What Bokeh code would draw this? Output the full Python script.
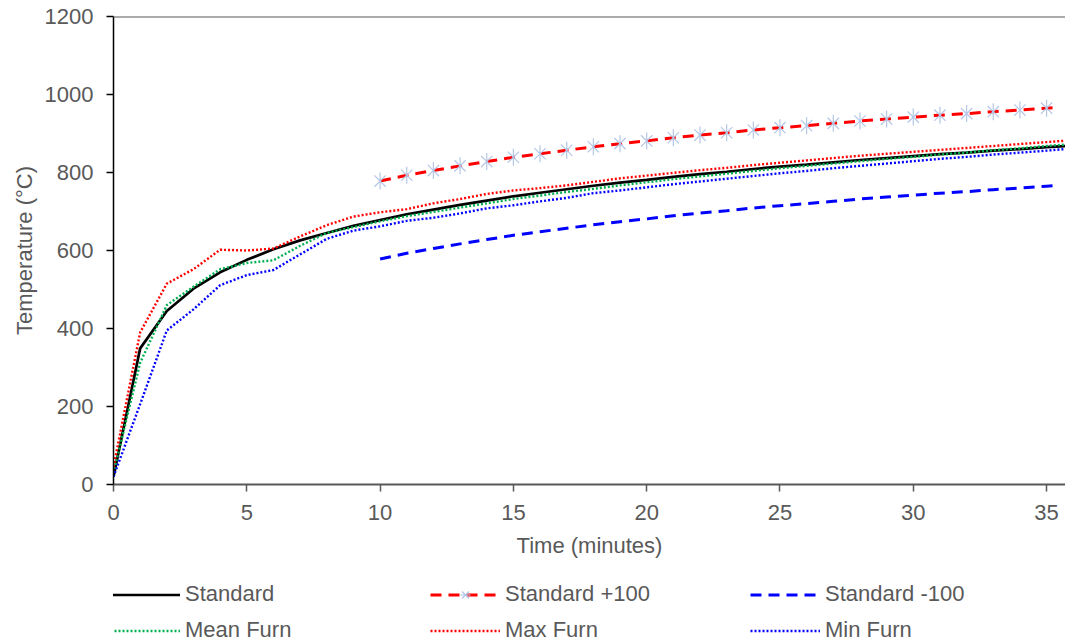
from bokeh.plotting import figure
from bokeh.layouts import column
from bokeh.models import Range1d, Legend, LegendItem, Span, FixedTicker
from bokeh.embed import file_html
from bokeh.resources import INLINE
import math

# ---- data ----
minutes = list(range(0, 37))
standard = [20, 349, 445, 502, 544, 576, 603, 626, 645, 663, 678, 693, 705, 717,
            728, 739, 748, 757, 766, 774, 781, 789, 796, 802, 809, 815, 820, 826,
            832, 837, 842, 847, 851, 856, 860, 865, 869]
max_furn = [45, 390, 515, 552, 602, 600, 605, 636, 665, 687, 698, 706, 721, 732,
            745, 754, 760, 767, 776, 785, 792, 799, 806, 812, 819, 825, 831, 837,
            843, 848, 853, 858, 863, 868, 873, 878, 883]
mean_furn = [30, 312, 460, 507, 552, 568, 575, 612, 645, 660, 675, 688, 699, 710,
             721, 732, 741, 750, 758, 767, 775, 783, 790, 797, 804, 811, 817, 823,
             829, 835, 840, 846, 851, 857, 862, 868, 873]
min_furn = [20, 206, 395, 449, 511, 537, 550, 590, 630, 651, 662, 676, 684, 695,
            708, 716, 726, 735, 747, 754, 762, 770, 777, 784, 791, 798, 804, 811,
            817, 823, 829, 835, 840, 846, 851, 856, 862]

band_minutes = [10, 11, 12, 13, 14, 15, 16, 17, 18, 19, 20, 21, 22, 23, 24, 25,
                26, 27, 28, 29, 30, 31, 32, 33, 34, 35, 35.4]
standard_plus100 = [778, 793, 805, 817, 828, 839, 848, 857, 866, 874, 881, 889,
                    896, 902, 909, 915, 920, 926, 932, 937, 942, 947, 951, 956,
                    960, 965, 967]
standard_minus100 = [578, 593, 605, 617, 628, 639, 648, 657, 666, 674, 681, 689,
                     696, 702, 709, 715, 720, 726, 732, 737, 742, 747, 751, 756,
                     760, 765, 767]
marker_minutes = band_minutes[:26]
marker_values = standard_plus100[:26]

series_names = ["Standard", "Standard +100", "Standard -100",
                "Mean Furn", "Max Furn", "Min Furn"]

x_ticks = [0, 5, 10, 15, 20, 25, 30, 35]
y_ticks = [0, 200, 400, 600, 800, 1000, 1200]

FONT = "Liberation Sans"
TXT = "#595959"
STAR = "#B4C7E7"

p = figure(width=1065, height=572,
           x_range=Range1d(0, 35.71), y_range=Range1d(0, 1200),
           output_backend="svg", toolbar_location=None,
           min_border_left=113, min_border_right=0,
           min_border_top=16, min_border_bottom=88)
p.outline_line_color = None
p.grid.visible = False

# axes
p.xaxis.ticker = FixedTicker(ticks=x_ticks)
p.yaxis.ticker = FixedTicker(ticks=y_ticks)
for ax in (p.xaxis, p.yaxis):
    ax.minor_tick_line_color = None
    ax.major_tick_in = 0
    ax.major_tick_out = 7
    ax.major_label_text_font = FONT
    ax.major_label_text_font_size = "22px"
    ax.major_label_text_color = TXT
    ax.axis_label_text_font = FONT
    ax.axis_label_text_font_size = "22px"
    ax.axis_label_text_color = TXT
    ax.axis_label_text_font_style = "normal"

p.xaxis.axis_label = "Time (minutes)"
p.xaxis.axis_line_color = "#595959"
p.xaxis.axis_line_width = 2
p.xaxis.major_tick_line_color = "#595959"
p.xaxis.major_tick_line_width = 1.5
p.xaxis.major_label_standoff = 13
p.xaxis.axis_label_standoff = 10

p.yaxis.axis_label = "Temperature (°C)"
p.yaxis.axis_line_color = "black"
p.yaxis.axis_line_width = 1.5
p.yaxis.major_tick_line_color = "black"
p.yaxis.major_tick_line_width = 1.5
p.yaxis.major_label_standoff = 13
p.yaxis.axis_label_standoff = 5

p.add_layout(Span(location=1200, dimension="width", line_color="#595959", line_width=2))


def draw_series(fig):
    r_std = fig.line(minutes, standard, line_color="black", line_width=2.7)
    r_plus = fig.line(band_minutes, standard_plus100, line_color="#FF0000",
                      line_width=3, line_dash="11 7")
    r_plus_x = fig.scatter(marker_minutes, marker_values, marker="x", size=16,
                           line_color=STAR, line_width=1.2)
    r_plus_v = fig.scatter(marker_minutes, marker_values, marker="dash", size=17,
                           angle=math.pi / 2, line_color=STAR, line_width=1.2)
    r_minus = fig.line(band_minutes, standard_minus100, line_color="#0000FF",
                       line_width=3, line_dash="11 7")
    r_mean = fig.line(minutes, mean_furn, line_color="#00B050", line_width=2.4,
                      line_dash="2 2")
    r_max = fig.line(minutes, max_furn, line_color="#FF0000", line_width=2.4,
                     line_dash="2 2")
    r_min = fig.line(minutes, min_furn, line_color="#0000FF", line_width=2.4,
                     line_dash="2 2")
    return [[r_std], [r_plus, r_plus_x, r_plus_v], [r_minus],
            [r_mean], [r_max], [r_min]]


draw_series(p)

# legend strip underneath (same series, hidden, only their legend entries shown)
lg = figure(width=1065, height=69, output_backend="svg", toolbar_location=None,
            x_axis_type=None, y_axis_type=None,
            min_border_left=0, min_border_right=0, min_border_top=0, min_border_bottom=0)
lg.outline_line_color = None
lg.grid.visible = False
groups = draw_series(lg)
for g in groups:
    for r in g:
        r.visible = False

legend = Legend(items=[LegendItem(label=n, renderers=g) for n, g in zip(series_names, groups)],
                location=(-3, -2), orientation="horizontal", ncols=3)
legend.label_text_font = FONT
legend.label_text_font_size = "22px"
legend.label_text_color = TXT
legend.glyph_width = 70
legend.glyph_height = 25
legend.label_height = 25
legend.label_width = 235
legend.label_standoff = 5
legend.spacing = 10
legend.padding = 0
legend.margin = 0
legend.border_line_color = None
legend.background_fill_alpha = 0
legend.inactive_fill_alpha = 0
lg.add_layout(legend, "center")

layout = column(p, lg, spacing=0)
open("out.html", "w").write(file_html(layout, INLINE))
